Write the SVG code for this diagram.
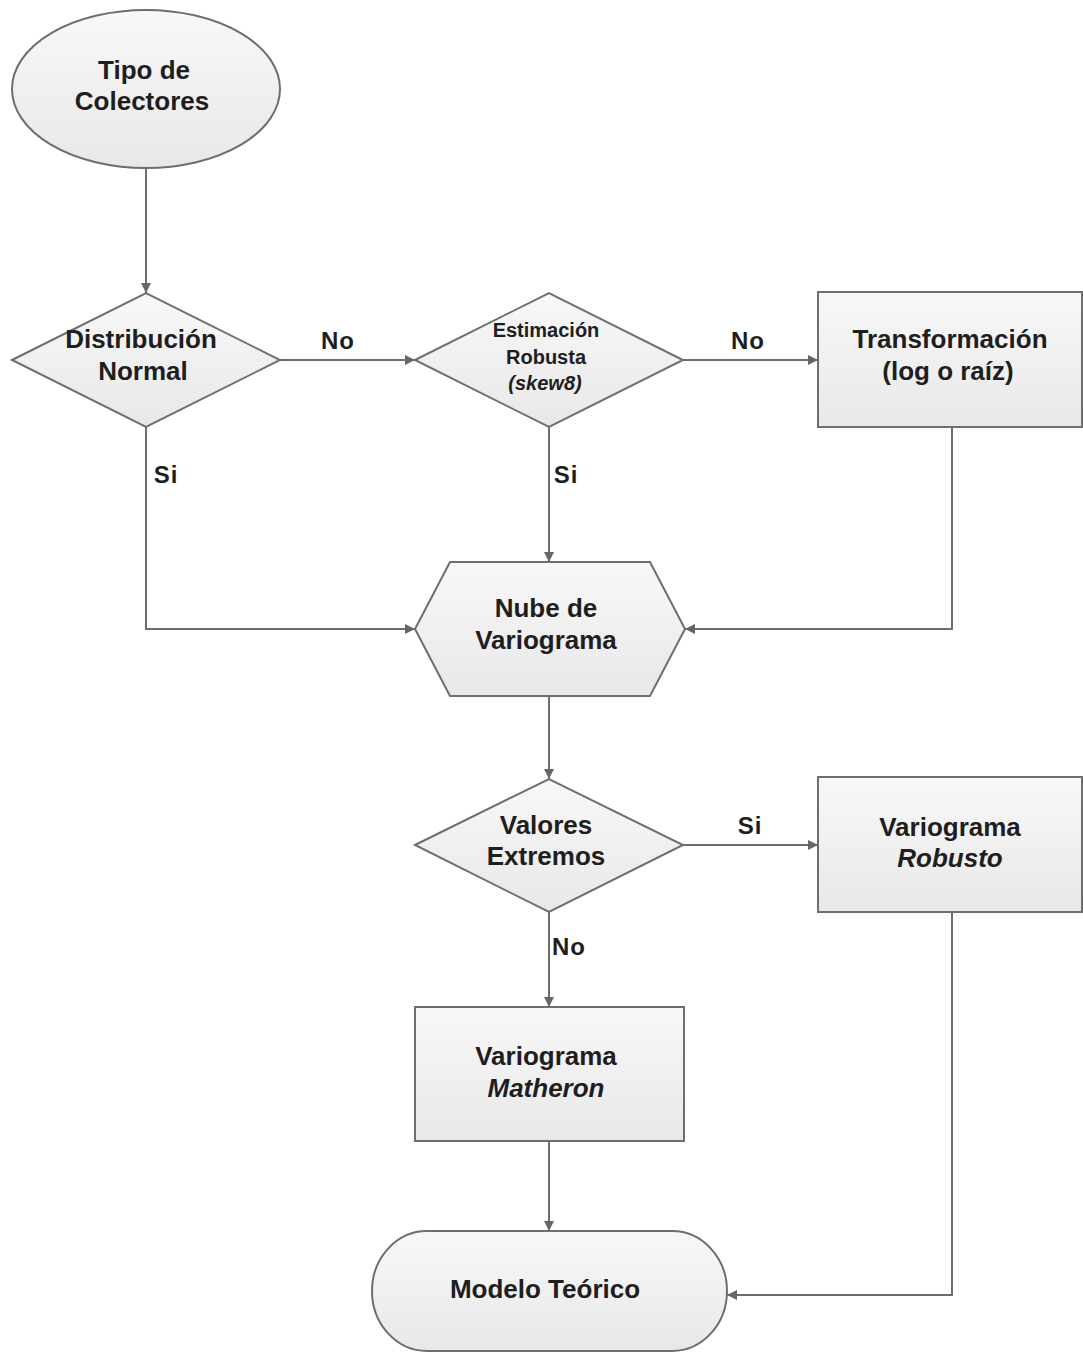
<svg xmlns="http://www.w3.org/2000/svg" width="1083" height="1353" viewBox="0 0 1083 1353">
<defs>
<linearGradient id="g" x1="0" y1="0" x2="0" y2="1">
<stop offset="0" stop-color="#f8f8f8"/>
<stop offset="1" stop-color="#e8e8e8"/>
</linearGradient>
<marker id="arr" viewBox="0 0 10 10" refX="10" refY="5" markerWidth="10" markerHeight="10" markerUnits="userSpaceOnUse" orient="auto">
<path d="M0,0 L10,5 L0,10 z" fill="#666"/>
</marker>
</defs>
<style>
.s{fill:url(#g);stroke:#6e6e6e;stroke-width:2}
.t{font-family:"Liberation Sans",Arial,sans-serif;font-weight:bold;font-size:26px;fill:#1e1e1e;text-anchor:middle}
.sm{font-size:20px}
.i{font-style:italic}
.c{fill:none;stroke:#6e6e6e;stroke-width:2;marker-end:url(#arr)}
.l{font-family:"Liberation Sans",Arial,sans-serif;font-weight:bold;font-size:24px;fill:#1e1e1e;text-anchor:middle;letter-spacing:1px}
</style>
<rect width="1083" height="1353" fill="#ffffff"/>
<g id="connectors">
<path class="c" d="M146,168 V293"/>
<path class="c" d="M280,360 H415"/>
<path class="c" d="M683,360 H818"/>
<path class="c" d="M146,427 V629 H415"/>
<path class="c" d="M549,427 V562"/>
<path class="c" d="M952,427 V629 H685"/>
<path class="c" d="M549,696 V779"/>
<path class="c" d="M683,845 H818"/>
<path class="c" d="M549,912 V1007"/>
<path class="c" d="M549,1141 V1231"/>
<path class="c" d="M952,912 V1295 H727"/>
<text class="l" x="338" y="349">No</text>
<text class="l" x="748" y="349">No</text>
<text class="l" x="166" y="483">Si</text>
<text class="l" x="566" y="483">Si</text>
<text class="l" x="750" y="834">Si</text>
<text class="l" x="569" y="955">No</text>
</g>
<g id="tipo">
<ellipse class="s" cx="146" cy="89" rx="134" ry="79"/>
<text class="t" x="144" y="79">Tipo de</text>
<text class="t" x="142" y="110">Colectores</text>
</g>
<g id="distribucion">
<polygon class="s" points="12,360 146,293 280,360 146,427"/>
<text class="t" x="141" y="348">Distribución</text>
<text class="t" x="143" y="380">Normal</text>
</g>
<g id="estimacion">
<polygon class="s" points="415,360 549,293 683,360 549,427"/>
<text class="t sm" x="546" y="337">Estimación</text>
<text class="t sm" x="546" y="364">Robusta</text>
<text class="t sm i" x="545" y="390">(skew8)</text>
</g>
<g id="transformacion">
<rect class="s" x="818" y="292" width="264" height="135"/>
<text class="t" x="950" y="348">Transformación</text>
<text class="t" x="948" y="380">(log o raíz)</text>
</g>
<g id="nube">
<polygon class="s" points="415,629 450,562 650,562 685,629 650,696 450,696"/>
<text class="t" x="546" y="617">Nube de</text>
<text class="t" x="546" y="649">Variograma</text>
</g>
<g id="valores">
<polygon class="s" points="415,845 549,779 683,845 549,912"/>
<text class="t" x="546" y="834">Valores</text>
<text class="t" x="546" y="865">Extremos</text>
</g>
<g id="robusto">
<rect class="s" x="818" y="777" width="264" height="135"/>
<text class="t" x="950" y="836">Variograma</text>
<text class="t i" x="950" y="867">Robusto</text>
</g>
<g id="matheron">
<rect class="s" x="415" y="1007" width="269" height="134"/>
<text class="t" x="546" y="1065">Variograma</text>
<text class="t i" x="546" y="1097">Matheron</text>
</g>
<g id="modelo">
<rect class="s" x="372" y="1231" width="355" height="120" rx="55" ry="60"/>
<text class="t" x="545" y="1298">Modelo Teórico</text>
</g>
</svg>
